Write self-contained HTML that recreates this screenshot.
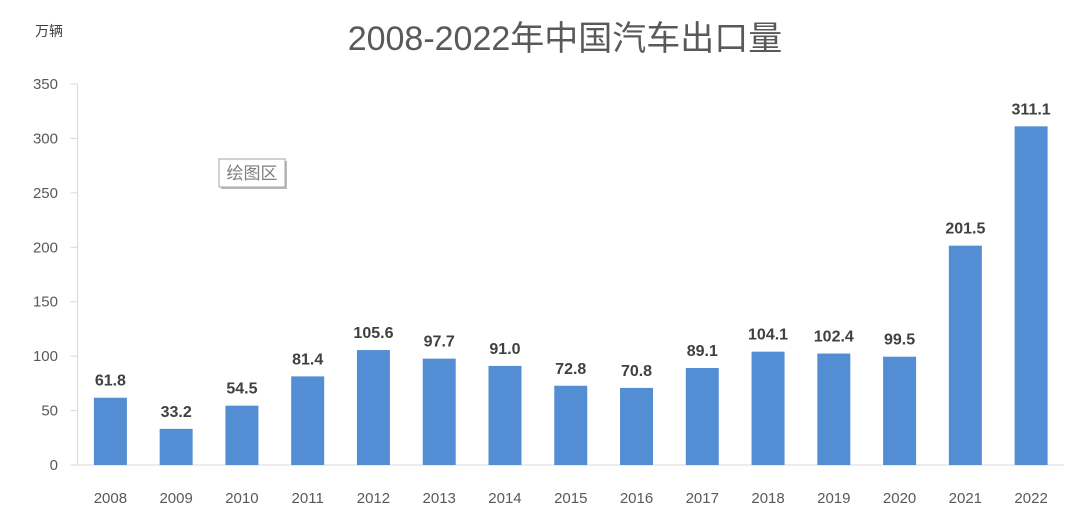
<!DOCTYPE html>
<html><head><meta charset="utf-8"><style>
html,body{margin:0;padding:0;background:#fff;}
svg{display:block;font-family:"Liberation Sans","Noto Sans CJK SC",sans-serif;}
</style></head><body>
<svg id="chart" width="1078" height="522">
<text x="565" y="50" text-anchor="middle" font-size="34" fill="#595959">2008-2022年中国汽车出口量</text>
<text x="49" y="36" text-anchor="middle" font-size="14" fill="#404040">万辆</text>
<g>
<rect x="221" y="161" width="66" height="28" fill="#bbb"/>
<rect x="219" y="159" width="66" height="28" fill="#fff" stroke="#a6a6a6"/>
<text x="252" y="179" text-anchor="middle" font-size="17" fill="#7f7f7f">绘图区</text>
</g>
<g id="axes"></g>
<g id="bars"></g>
</svg>
<script>
const categories=["2008","2009","2010","2011","2012","2013","2014","2015","2016","2017","2018","2019","2020","2021","2022"];
const values=[61.8,33.2,54.5,81.4,105.6,97.7,91.0,72.8,70.8,89.1,104.1,102.4,99.5,201.5,311.1];
const yTicks=[0,50,100,150,200,250,300,350];
const NS="http://www.w3.org/2000/svg";
const x0=77.5,x1=1064,y0=465,yTop=84,yMax=350;
const bw=(x1-x0)/categories.length;
function yScale(v){return y0-(v/yMax)*(y0-yTop);}
function xCenter(i){return x0+bw*(i+0.5);}
function mk(tag,attrs,parent){const e=document.createElementNS(NS,tag);for(const k in attrs)e.setAttribute(k,attrs[k]);parent.appendChild(e);return e;}
const axes=document.getElementById('axes'),bars=document.getElementById('bars');
const ya=mk('line',{x1:x0,y1:yTop,x2:x0,y2:y0,stroke:'#d9d9d9'},axes);


const xa=mk('line',{x1:x0,y1:y0,x2:x1,y2:y0,stroke:'#d9d9d9'},axes);


yTicks.forEach(t=>{
 const y=yScale(t);
 const tk=mk('line',{x1:x0-7,y1:y,x2:x0,y2:y,stroke:'#d9d9d9'},axes);
 
 
 const lb=mk('text',{x:58,y:y+5,'text-anchor':'end','font-size':'15',fill:'#595959'},axes);
 lb.textContent=t;
 
 
});
categories.forEach((c,i)=>{
 const cx=xCenter(i),v=values[i],y=yScale(v);
 const r=mk('rect',{x:cx-16.5,y:y,width:33,height:y0-y,fill:'#538ed5'},bars);
 
 
 const vl=mk('text',{x:cx,y:y-12,'text-anchor':'middle','font-size':'16','font-weight':'bold',fill:'#404040'},bars);
 vl.textContent=v.toFixed(1);
 
 
 const xl=mk('text',{x:cx,y:503,'text-anchor':'middle','font-size':'15',fill:'#595959'},axes);
 xl.textContent=c;
 
 
});
</script>
</body></html>
